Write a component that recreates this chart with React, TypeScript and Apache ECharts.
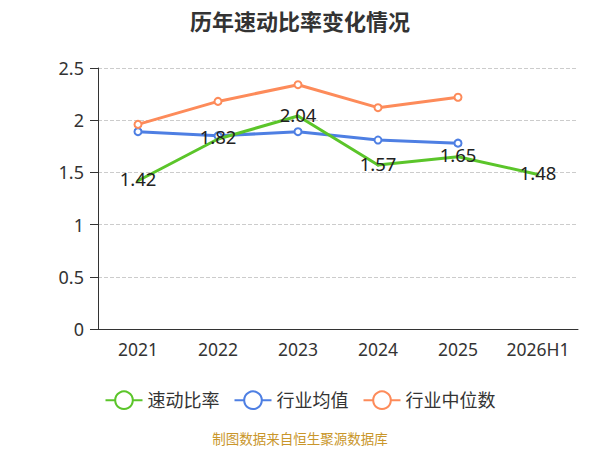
import React, { useEffect, useRef } from "react";
import * as echarts from "echarts";

const categories = ["2021", "2022", "2023", "2024", "2025", "2026H1"];
const quickRatio = [1.42, 1.82, 2.04, 1.57, 1.65, 1.48];
const industryMean = [1.89, 1.85, 1.89, 1.81, 1.78];
const industryMedian = [1.96, 2.18, 2.34, 2.12, 2.22];
const yTicks = { min: 0, max: 2.5, interval: 0.5 };

const FONT = "'Noto Sans', 'Noto Sans CJK SC', sans-serif";

export default function App() {
  const ref = useRef<HTMLDivElement>(null);
  useEffect(() => {
    document.body.style.margin = "0";
    const chart = echarts.init(ref.current!, null, { renderer: "svg" });
    chart.setOption({
      animation: false,
      textStyle: { fontFamily: FONT },
      title: {
        text: "历年速动比率变化情况",
        left: "center",
        top: 5,
        textStyle: { fontSize: 22, fontWeight: "bold", color: "#333", fontFamily: FONT },
      },
      graphic: [
        {
          type: "text",
          left: "center",
          top: 432,
          style: { text: "制图数据来自恒生聚源数据库", fill: "#c9962a", fontSize: 13.5, fontFamily: FONT },
        },
      ],
      legend: {
        bottom: 35,
        left: "center",
        itemWidth: 37,
        itemHeight: 22,
        itemGap: 14,
        textStyle: { fontSize: 18, color: "#333", fontFamily: FONT },
        data: ["速动比率", "行业均值", "行业中位数"],
      },
      grid: { left: 98, right: 22, top: 68, bottom: 121 },
      xAxis: {
        type: "category",
        data: categories,
        axisLine: { lineStyle: { color: "#333" } },
        axisTick: { length: 6, lineStyle: { color: "#333" } },
        axisLabel: { fontSize: 17.5, color: "#333", margin: 11, interval: 0 },
      },
      yAxis: {
        type: "value",
        min: yTicks.min,
        max: yTicks.max,
        interval: yTicks.interval,
        axisLine: { show: true, lineStyle: { color: "#333" } },
        axisTick: { show: true, length: 8, lineStyle: { color: "#333" } },
        axisLabel: { fontSize: 18, color: "#333", margin: 14 },
        splitLine: { lineStyle: { type: "dashed", color: "#ccc" } },
      },
      series: [
        {
          name: "速动比率",
          type: "line",
          data: quickRatio,
          symbol: "emptyCircle",
          symbolSize: 1,
          itemStyle: { color: "#5bc52a" },
          lineStyle: { width: 3, color: "#5bc52a" },
          label: {
            show: true,
            position: "inside",
            offset: [0, -2],
            fontSize: 18.5,
            color: "#222",
            fontFamily: FONT,
          },
          z: 3,
        },
        {
          name: "行业均值",
          type: "line",
          data: industryMean,
          symbol: "emptyCircle",
          symbolSize: 7,
          itemStyle: { color: "#4e7fe3" },
          lineStyle: { width: 3, color: "#4e7fe3" },
          z: 2,
        },
        {
          name: "行业中位数",
          type: "line",
          data: industryMedian,
          symbol: "emptyCircle",
          symbolSize: 7,
          itemStyle: { color: "#fd8b5a" },
          lineStyle: { width: 3, color: "#fd8b5a" },
          z: 2,
        },
      ],
    });
    return () => chart.dispose();
  }, []);
  return <div ref={ref} style={{ width: 600, height: 450 }} />;
}
